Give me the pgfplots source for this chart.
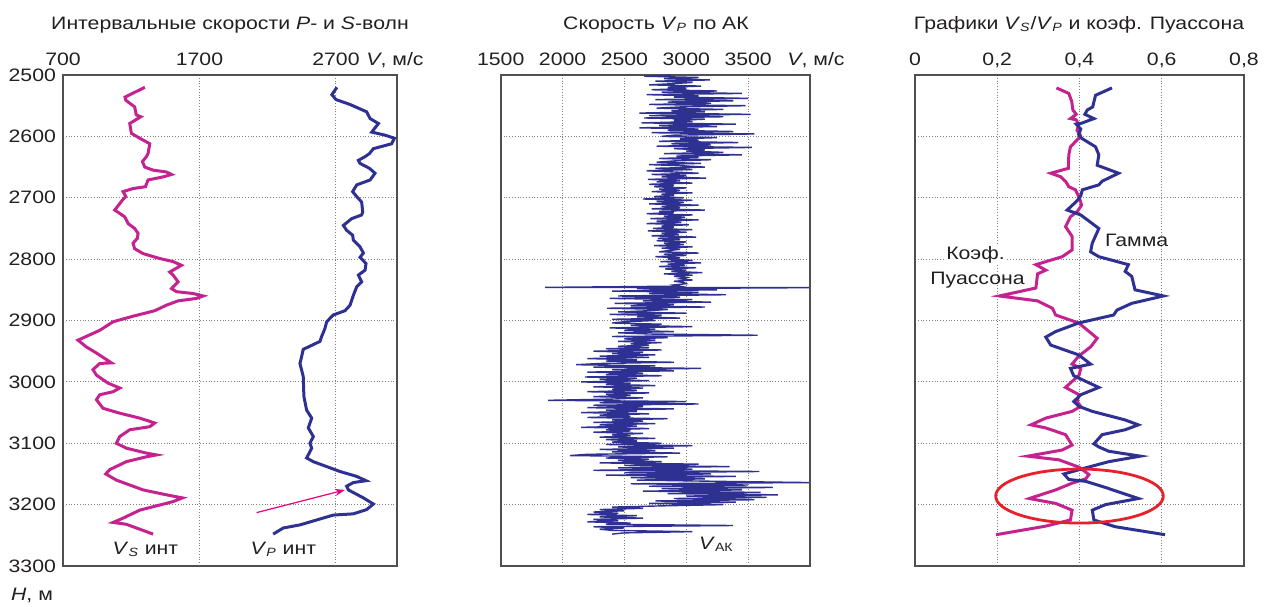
\documentclass[border=0pt]{standalone}
\usepackage{fontspec}
\setmainfont[FakeStretch=1.18]{Liberation Sans}
\usepackage{pgfplots}
\pgfplotsset{compat=1.18}
\usetikzlibrary{arrows.meta}
\definecolor{vs}{RGB}{196,34,143}
\definecolor{vp}{RGB}{46,49,146}
\definecolor{frame}{RGB}{80,80,80}
\definecolor{txt}{RGB}{35,31,32}
\definecolor{arr}{RGB}{230,0,126}
\definecolor{ell}{RGB}{232,32,42}
\newcommand{\fs}{\fontsize{9}{10.5}\selectfont}
\pgfplotsset{
  panel/.style={
    scale only axis, height=245.5pt,
    y dir=reverse, ymin=2500, ymax=3300, ytick={2500,2600,...,3300},
    axis line style={frame, line width=0.8pt},
    grid=major, grid style={densely dotted, gray, line width=0.5pt},
    major tick length=0pt,
    xticklabel pos=top,
    tick label style={font=\fs, text=txt},
    xticklabel style={anchor=base, yshift=5pt},
    /pgf/number format/assume math mode=true,
    /pgf/number format/1000 sep={},
    anchor=south west,
    clip=false,
  }
}
\begin{document}
\begin{tikzpicture}[font=\fs, text=txt]
\path[use as bounding box] (0pt,0pt) rectangle (636pt,-303pt);
% titles
\node at (115pt,-12.5pt) {Интервальные скорости \textit{P}- и \textit{S}-волн};
\node at (328pt,-12.5pt) {Скорость \textit{V}\textsubscript{\textit{P}} по АК};
\node at (539.5pt,-12.5pt) {Графики \textit{V}\textsubscript{\textit{S}}/\textit{V}\textsubscript{\textit{P}} и коэф. Пуассона};
\node[anchor=base] at (197.5pt,-32.5pt) {\textit{V}, м/с};
\node[anchor=base] at (408pt,-32.5pt) {\textit{V}, м/с};
\node at (16pt,-297.5pt) {\textit{H}, м};

% ---------------- left panel
\begin{axis}[panel, at={(31.5pt,-283pt)}, width=167pt,
  xmin=700, xmax=3147, xtick={700,1700,2700}]
\addplot[vs, line width=1.5pt] coordinates {
(1300,2520) (1154,2536) (1160,2541) (1225,2552) (1237,2565) (1270,2568) (1189,2579)
(1201,2595) (1262,2603) (1336,2612) (1323,2628) (1311,2633) (1282,2641) (1299,2650)
(1360,2655) (1458,2658) (1495,2662) (1433,2666) (1323,2671) (1304,2682) (1213,2685)
(1140,2690) (1160,2698) (1135,2704) (1079,2720) (1152,2731) (1164,2736) (1177,2742)
(1225,2750) (1250,2758) (1245,2766) (1213,2774) (1225,2783) (1287,2791) (1409,2799)
(1507,2804) (1568,2810) (1482,2821) (1507,2826) (1543,2837) (1495,2848) (1531,2853)
(1653,2856) (1727,2860) (1678,2864) (1543,2868) (1458,2875) (1372,2884) (1213,2893)
(1067,2902) (969,2916) (810,2932) (871,2943) (945,2953) (1055,2969) (969,2970)
(920,2980) (945,2989) (1030,3002) (1116,3010) (1067,3016) (969,3021) (945,3029)
(993,3043) (1116,3051) (1262,3059) (1372,3067) (1336,3073) (1189,3078) (1116,3089)
(1091,3100) (1164,3108) (1311,3116) (1385,3119) (1311,3122) (1164,3130) (1042,3143)
(1013,3150) (1091,3160) (1287,3176) (1458,3184) (1575,3189) (1507,3195) (1262,3209)
(1140,3222) (1067,3229) (1164,3232) (1360,3248)
};
\addplot[vp, line width=1.5pt] coordinates {
(2707,2520) (2670,2532) (2700,2540) (2803,2548) (2925,2560) (2950,2571) (3011,2579)
(2962,2593) (3060,2598) (3128,2603) (3108,2612) (2974,2620) (2945,2628) (2913,2633)
(2864,2639) (2876,2644) (2945,2652) (2986,2660) (2950,2671) (2852,2679) (2822,2690)
(2852,2698) (2888,2707) (2896,2723) (2888,2728) (2815,2734) (2754,2745) (2778,2753)
(2822,2761) (2827,2769) (2876,2780) (2901,2790) (2876,2797) (2920,2807) (2913,2818)
(2864,2826) (2888,2837) (2852,2845) (2827,2859) (2803,2875) (2766,2884) (2680,2891)
(2632,2902) (2619,2913) (2595,2926) (2583,2934) (2460,2947) (2448,2959) (2436,2970)
(2460,2991) (2465,3024) (2485,3046) (2522,3059) (2497,3075) (2534,3089) (2509,3100)
(2522,3108) (2485,3124) (2534,3130) (2632,3138) (2729,3146) (2852,3154) (2920,3161)
(2827,3164) (2778,3170) (2791,3176) (2901,3189) (2974,3199) (2925,3208) (2827,3215)
(2680,3217) (2558,3225) (2436,3233) (2314,3238) (2240,3248)
};
\draw[arr, line width=0.6pt, -{Stealth[length=5pt,width=3.5pt]}] (axis cs:2118,3213) -- (axis cs:2766,3176);
\node at (axis cs:1304,3273) {\textit{V}\textsubscript{\textit{S}} инт};
\node at (axis cs:2314,3273) {\textit{V}\textsubscript{\textit{P}} инт};
\end{axis}

% ---------------- middle panel
\begin{axis}[panel, at={(250.35pt,-283pt)}, width=154.65pt,
  xmin=1500, xmax=4000, xtick={1500,2000,...,3500}, yticklabels={}]
\addplot[vp, line width=0.7pt] table[row sep=\\] {
v d \\
2880 2500 \\ 2660 2502 \\ 3100 2504 \\ 2820 2506 \\ 3190 2508 \\ 2750 2510 \\ 3050 2512 \\ 2900 2514 \\ 2700 2516 \\ 3120 2518 \\ 2850 2520 \\ 3000 2522 \\
2720 2524 \\ 3250 2526 \\ 2800 2528 \\ 3450 2530 \\ 2680 2532 \\ 3100 2534 \\ 2900 2536 \\ 3500 2538 \\ 2750 2540 \\ 3380 2542 \\ 2850 2544 \\ 3200 2546 \\ 2700 2548 \\ 3480 2550 \\ 2950 2552 \\ 2760 2554 \\ 3300 2556 \\ 2880 2558 \\ 3150 2560 \\
2620 2562 \\ 3520 2564 \\ 2700 2566 \\ 3300 2568 \\ 2660 2570 \\ 3150 2572 \\ 2900 2574 \\ 3050 2576 \\ 2640 2578 \\ 3400 2580 \\ 2780 2582 \\ 3250 2584 \\ 2620 2586 \\ 3100 2588 \\ 2850 2590 \\ 3380 2592 \\ 2720 2594 \\ 3550 2596 \\ 2900 2598 \\
2800 2600 \\ 3250 2602 \\ 2950 2604 \\ 3100 2606 \\ 2780 2608 \\ 3420 2610 \\ 2880 2612 \\ 3200 2614 \\ 2760 2616 \\ 3530 2618 \\ 2900 2620 \\ 3150 2622 \\ 3000 2624 \\ 3300 2626 \\ 2820 2628 \\ 3450 2630 \\ 2920 2632 \\ 3100 2634 \\ 2780 2636 \\ 3200 2638 \\ 2900 2640 \\
2760 2642 \\ 3120 2644 \\ 2700 2646 \\ 2980 2648 \\ 3150 2650 \\ 2750 2652 \\ 3050 2654 \\ 2680 2656 \\ 2900 2658 \\ 3100 2660 \\ 2720 2662 \\ 3000 2664 \\ 2800 2666 \\ 3160 2668 \\ 2690 2670 \\ 2950 2672 \\ 2760 2674 \\ 3050 2676 \\ 2700 2678 \\ 2900 2680 \\
2740 2682 \\ 3000 2684 \\ 2780 2686 \\ 2950 2688 \\ 2720 2690 \\ 3050 2692 \\ 2800 2694 \\ 2900 2696 \\ 2740 2698 \\ 2980 2700 \\
2650 2702 \\ 3050 2704 \\ 2760 2706 \\ 2980 2708 \\ 2700 2710 \\ 3100 2712 \\ 2800 2714 \\ 2950 2716 \\ 2720 2718 \\ 3150 2720 \\ 2780 2722 \\ 2900 2724 \\ 2680 2726 \\ 3050 2728 \\ 2820 2730 \\ 2990 2732 \\ 2710 2734 \\ 3100 2736 \\ 2760 2738 \\ 2960 2740 \\ 2680 2742 \\ 3020 2744 \\ 2800 2746 \\ 2900 2748 \\ 2730 2750 \\ 3050 2752 \\ 2690 2754 \\ 3000 2756 \\ 2800 2758 \\ 2940 2760 \\ 2720 2762 \\ 3080 2764 \\ 2770 2766 \\ 2950 2768 \\
2760 2770 \\ 3000 2772 \\ 2820 2774 \\ 2980 2776 \\ 2740 2778 \\ 3050 2780 \\ 2800 2782 \\ 2950 2784 \\ 2860 2786 \\ 2780 2788 \\ 3100 2790 \\ 2820 2792 \\ 3000 2794 \\ 2750 2796 \\ 2950 2798 \\ 2850 2800 \\ 3050 2802 \\ 2790 2804 \\ 3120 2806 \\ 2850 2808 \\ 2990 2810 \\ 2780 2812 \\ 3080 2814 \\ 2830 2816 \\ 3000 2818 \\ 2880 2820 \\ 3130 2822 \\ 2820 2824 \\ 3050 2826 \\ 2900 2828 \\ 3000 2830 \\
2950 2832 \\ 3050 2834 \\ 2900 2836 \\ 2980 2838 \\ 3000 2840 \\ 2900 2842 \\ 2950 2844 \\ 1860 2846 \\ 3990 2846.5 \\
2600 2848 \\ 3250 2850 \\ 2400 2852 \\ 3100 2854 \\ 2700 2856 \\ 3320 2858 \\ 2450 2860 \\ 2950 2862 \\ 2380 2864 \\ 3050 2866 \\ 2650 2868 \\ 3200 2870 \\ 2420 2872 \\ 2900 2874 \\ 2550 2876 \\ 3150 2878 \\ 2360 2880 \\ 2850 2882 \\ 2700 2884 \\ 2450 2886 \\ 3000 2888 \\ 2380 2890 \\ 2800 2892 \\ 2600 2894 \\ 2950 2896 \\ 2400 2898 \\ 2750 2900 \\ 2500 2902 \\
2400 2904 \\ 2800 2906 \\ 2550 2908 \\ 3050 2910 \\ 2380 2912 \\ 2750 2914 \\ 2500 2916 \\ 2900 2918 \\ 2450 2920 \\ 2700 2922 \\ 3577 2924 \\ 2400 2926 \\ 2850 2928 \\ 2500 2930 \\ 2750 2932 \\ 2450 2934 \\ 2800 2936 \\ 2550 2938 \\ 2700 2940 \\
2450 2942 \\ 2700 2944 \\ 2350 2946 \\ 2800 2948 \\ 2250 2950 \\ 2650 2952 \\ 2400 2954 \\ 2750 2956 \\ 2300 2958 \\ 2700 2960 \\ 2200 2962 \\ 2600 2964 \\ 2350 2966 \\ 2900 2968 \\ 2300 2970 \\ 2110 2972 \\ 2750 2974 \\ 2250 2976 \\ 3120 2978 \\ 2400 2980 \\ 2900 2982 \\ 2200 2984 \\ 2650 2986 \\ 2350 2988 \\ 2800 2990 \\ 2180 2992 \\ 2600 2994 \\ 2300 2996 \\ 2700 2998 \\ 2150 3000 \\ 2550 3002 \\ 2350 3004 \\ 2750 3006 \\ 2250 3008 \\ 2650 3010 \\ 2400 3012 \\ 2600 3014 \\ 2200 3016 \\ 2700 3018 \\ 2350 3020 \\ 2550 3022 \\ 2250 3024 \\ 2650 3026 \\ 2400 3028 \\
1884 3030 \\ 3000 3032 \\ 2300 3034 \\ 3100 3036 \\ 2250 3038 \\ 2650 3040 \\ 2200 3042 \\ 2900 3044 \\ 2350 3046 \\ 2600 3048 \\ 2150 3050 \\ 2700 3052 \\ 2300 3054 \\ 2550 3056 \\ 2200 3058 \\ 2850 3060 \\ 2400 3062 \\ 2650 3064 \\ 2250 3066 \\ 2750 3068 \\ 2300 3070 \\ 2600 3072 \\ 2150 3074 \\ 2700 3076 \\ 2350 3078 \\ 2550 3080 \\ 2250 3082 \\ 2650 3084 \\ 2400 3086 \\ 2550 3088 \\ 2300 3090 \\ 2750 3092 \\ 2350 3094 \\ 2600 3096 \\
2400 3098 \\ 2800 3100 \\ 2350 3102 \\ 3050 3104 \\ 2450 3106 \\ 2900 3108 \\ 2300 3110 \\ 2750 3112 \\ 2400 3114 \\ 2950 3116 \\ 2200 3118 \\ 2060 3120 \\ 2850 3122 \\ 2350 3124 \\ 2700 3126 \\ 2450 3128 \\ 2800 3130 \\
2300 3132 \\ 3100 3134 \\ 2500 3136 \\ 3350 3138 \\ 2450 3140 \\ 3050 3142 \\ 2250 3144 \\ 3590 3146 \\ 2500 3148 \\ 3200 3150 \\ 2350 3152 \\ 3400 3154 \\ 2550 3156 \\ 3150 3158 \\ 2600 3160 \\ 3250 3162 \\
3990 3164 \\ 2550 3166 \\ 3500 3168 \\ 2700 3170 \\ 3700 3172 \\ 2800 3174 \\ 3450 3176 \\ 2650 3178 \\ 3600 3180 \\ 2850 3182 \\ 3740 3184 \\ 3000 3186 \\ 3650 3188 \\ 2900 3190 \\ 3550 3192 \\ 2750 3194 \\ 3400 3196 \\ 2700 3198 \\ 3300 3200 \\
2800 3202 \\ 2400 3204 \\ 2650 3206 \\ 2300 3208 \\ 2500 3210 \\ 2250 3212 \\ 2450 3214 \\ 2200 3216 \\ 2600 3218 \\ 2300 3220 \\ 2650 3222 \\ 2250 3224 \\ 2450 3226 \\ 2200 3228 \\ 2550 3230 \\ 2350 3232 \\ 3376 3234 \\ 2250 3236 \\ 2500 3238 \\ 2300 3240 \\ 2400 3242 \\ 3050 3244 \\ 2500 3246 \\ 2400 3248 \\
};
\node at (axis cs:3244,3265) {\textit{V}\textsubscript{АК}};
\end{axis}

% ---------------- right panel
\begin{axis}[panel, at={(457.5pt,-283pt)}, width=164.5pt,
  xmin=0, xmax=0.8, xtick={0,0.2,...,0.8}, yticklabels={},
  xticklabel style={/pgf/number format/use comma, /pgf/number format/fixed}]
\addplot[vs, line width=1.5pt] coordinates {
(0.344,2521) (0.374,2530) (0.381,2543) (0.384,2557) (0.392,2564) (0.378,2571) (0.392,2573)
(0.398,2581) (0.394,2590) (0.402,2598) (0.398,2603) (0.378,2617) (0.374,2630) (0.373,2652)
(0.330,2660) (0.355,2666) (0.367,2674) (0.374,2682) (0.390,2687) (0.398,2698) (0.402,2705)
(0.405,2712) (0.395,2722) (0.378,2731) (0.366,2747) (0.382,2763) (0.382,2785) (0.358,2796)
(0.294,2809) (0.318,2818) (0.298,2824) (0.294,2847) (0.205,2860) (0.298,2868) (0.334,2880)
(0.342,2891) (0.398,2904) (0.427,2920) (0.443,2929) (0.427,2943) (0.398,2958) (0.382,2971)
(0.403,2978) (0.399,2989) (0.366,3009) (0.399,3021) (0.394,3032) (0.403,3040) (0.382,3048)
(0.318,3059) (0.282,3070) (0.318,3075) (0.366,3086) (0.382,3103) (0.358,3111) (0.274,3121)
(0.350,3127) (0.399,3139) (0.423,3151) (0.415,3158) (0.382,3165) (0.342,3176) (0.278,3190)
(0.342,3198) (0.382,3209) (0.378,3225) (0.318,3235) (0.197,3249)
};
\addplot[vp, line width=1.5pt] coordinates {
(0.479,2521) (0.439,2533) (0.432,2552) (0.419,2557) (0.413,2564) (0.435,2571) (0.403,2579)
(0.392,2580) (0.403,2588) (0.398,2597) (0.405,2603) (0.439,2617) (0.447,2630) (0.443,2647)
(0.495,2660) (0.455,2673) (0.447,2679) (0.407,2687) (0.403,2697) (0.394,2705) (0.370,2720)
(0.403,2728) (0.447,2750) (0.431,2774) (0.427,2788) (0.447,2796) (0.519,2809) (0.511,2820)
(0.527,2828) (0.535,2850) (0.604,2860) (0.527,2872) (0.491,2883) (0.483,2891) (0.398,2904)
(0.342,2918) (0.318,2927) (0.330,2940) (0.398,2956) (0.427,2971) (0.378,2978) (0.386,2990)
(0.447,3009) (0.403,3021) (0.386,3032) (0.399,3040) (0.431,3048) (0.511,3062) (0.543,3070)
(0.511,3078) (0.455,3086) (0.435,3101) (0.447,3106) (0.471,3113) (0.548,3121) (0.471,3130)
(0.410,3141) (0.362,3150) (0.374,3159) (0.415,3162) (0.463,3172) (0.543,3190) (0.463,3200)
(0.431,3209) (0.435,3225) (0.487,3236) (0.608,3249)
};
\draw[ell, line width=1.4pt] (axis cs:0.4,3186) ellipse [x radius=41.9pt, y radius=13.5pt];
\node at (axis cs:0.539,2769) {Гамма};
\node[fill=white, inner sep=0.5pt] at (axis cs:0.147,2793) {Коэф.};
\node at (axis cs:0.152,2834) {Пуассона};
\end{axis}
\end{tikzpicture}
\end{document}
